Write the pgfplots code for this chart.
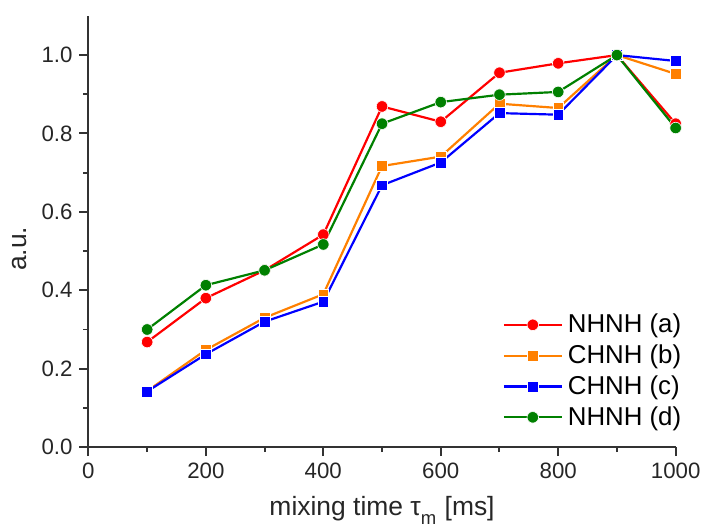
\documentclass[border=0pt]{standalone}
\usepackage{fontspec}
\setmainfont{Liberation Sans}
\usepackage{pgfplots}
\pgfplotsset{compat=1.18}
\definecolor{cred}{HTML}{FF0000}
\definecolor{corange}{HTML}{FF8000}
\definecolor{cblue}{HTML}{0000FF}
\definecolor{cgreen}{HTML}{008000}
\definecolor{axgray}{HTML}{333333}
\begin{document}
\begin{tikzpicture}
\begin{axis}[
  scale only axis,
  width=295.5bp, height=217bp,
  xmin=0, xmax=1000, ymin=0, ymax=1.1,
  axis x line=bottom, axis y line=left,
  axis line style={-, line width=1bp, axgray},
  xtick={0,200,...,1000},
  ytick={0,0.2,...,1.0},
  minor x tick num=1, minor y tick num=1,
  tick align=outside,
  major tick length=4.5bp, minor tick length=2.5bp,
  every tick/.style={line width=1bp, axgray},
  /pgf/number format/assume math mode=true,
  yticklabel style={/pgf/number format/.cd, fixed, fixed zerofill, precision=1},
  xticklabel style={/pgf/number format/.cd, fixed, 1000 sep={}},
  tick label style={font=\fontsize{11.2bp}{13bp}\selectfont, text=black!85},
  xlabel={mixing time τ\raisebox{-0.35ex}{\textsubscript{m}} [ms]},
  ylabel={a.u.},
  label style={font=\fontsize{13.3bp}{15bp}\selectfont, text=black!85},
  ylabel style={at={(axis description cs:-0.117,0.46)}, anchor=center},
  xlabel style={at={(axis description cs:0.5,-0.159)}, anchor=base},
  legend style={draw=none, fill=none, at={(axis description cs:1.019,0.037)}, anchor=south east,
    font=\fontsize{13bp}{15bp}\selectfont, row sep=2bp, inner sep=0pt,
    nodes={inner xsep=2.6bp, inner ysep=1.3bp}},
  legend cell align=left,
  legend image code/.code={
    \draw[#1] (0cm,0cm) -- (29bp,0cm);
    \draw[#1, only marks] plot coordinates {(14.5bp,0cm)};
  },
  clip=false,
]
\addplot[cred, line width=1.1bp, mark=*, mark size=2.9bp, mark options={fill=cred, draw=white, line width=0.3bp}]
  coordinates {(100,0.268) (200,0.380) (300,0.451) (400,0.542) (500,0.869) (600,0.830) (700,0.955) (800,0.979) (900,1.000) (1000,0.825)};
\addlegendentry{NHNH (a)}
\addplot[corange, line width=1.1bp, mark=square*, mark size=2.7bp, mark options={fill=corange, draw=white, line width=0.3bp}]
  coordinates {(100,0.143) (200,0.248) (300,0.330) (400,0.390) (500,0.717) (600,0.741) (700,0.876) (800,0.865) (900,1.000) (1000,0.952)};
\addlegendentry{CHNH (b)}
\addplot[cblue, line width=1.1bp, mark=square*, mark size=2.7bp, mark options={fill=cblue, draw=white, line width=0.3bp}]
  coordinates {(100,0.142) (200,0.237) (300,0.320) (400,0.371) (500,0.668) (600,0.726) (700,0.852) (800,0.848) (900,1.000) (1000,0.985)};
\addlegendentry{CHNH (c)}
\addplot[cgreen, line width=1.1bp, mark=*, mark size=2.9bp, mark options={fill=cgreen, draw=white, line width=0.3bp}]
  coordinates {(100,0.300) (200,0.413) (300,0.451) (400,0.517) (500,0.825) (600,0.880) (700,0.899) (800,0.906) (900,1.000) (1000,0.814)};
\addlegendentry{NHNH (d)}
\end{axis}
\path[use as bounding box] (-44.5bp,-39bp) rectangle (309bp,225bp);
\end{tikzpicture}
\end{document}
